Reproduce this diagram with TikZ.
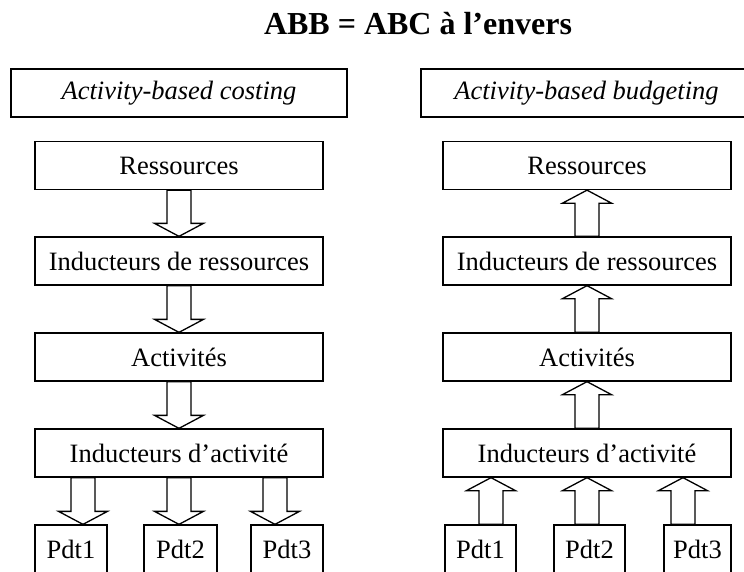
\documentclass[tikz,border=0pt]{standalone}
\usepackage{fontspec}
\setmainfont{Liberation Serif}
\usepackage{tikz}
\usetikzlibrary{calc}
\tikzset{
    box/.style={rectangle,draw,line width=1.3pt,minimum height=48,inner sep=0pt,font=\fontsize{26.5}{30}\selectfont},
    colbox/.style={box,minimum width=288},
    headbox/.style={box,font=\fontsize{26.5}{30}\selectfont\itshape},
    titlenode/.style={inner sep=0pt,anchor=base,font=\fontsize{32}{36}\selectfont\bfseries},
    fat/.style={draw,line width=1.3pt,line join=miter},
}
% hollow block arrow: x and tail from #1, tip height from #2
\newcommand{\fatarrow}[2]{%
    \draw[fat] let \p1=(#1), \p2=(#2), \n1={(\y2>\y1) ? 1 : -1} in
        (\x1-12pt,\y1) -- (\x1-12pt,\y2-\n1*13pt) -- (\x1-24.5pt,\y2-\n1*13pt) -- (\x1,\y2)
        -- (\x1+24.5pt,\y2-\n1*13pt) -- (\x1+12pt,\y2-\n1*13pt) -- (\x1+12pt,\y1) -- cycle;
}

\begin{document}
\begin{tikzpicture}[x=1pt,y=-1pt]
    \useasboundingbox (0,0) rectangle (744,571);

    \node[titlenode] (title) at (418,34) {ABB = ABC à l’envers};

    % ABC
    \node[headbox,minimum width=336] (abc) at (179,93) {Activity-based costing};
    \node[colbox] (ra) at (179,165.5) {Ressources};
    \node[colbox] (ira) at (179,261) {Inducteurs de ressources};
    \node[colbox] (aa) at (179,357) {Activités};
    \node[colbox] (iaa) at (179,453) {Inducteurs d’activité};
    \node[box,minimum width=72] (pa1) at (71,549) {Pdt1};
    \node[box,minimum width=73] (pa2) at (180.5,549) {Pdt2};
    \node[box,minimum width=72] (pa3) at (287,549) {Pdt3};

    \fatarrow{ra.south}{ira.north}
    \fatarrow{ira.south}{aa.north}
    \fatarrow{aa.south}{iaa.north}
    \fatarrow{$(iaa.south)+(-96,0)$}{pa1.north}
    \fatarrow{iaa.south}{pa2.north}
    \fatarrow{$(iaa.south)+(96,0)$}{pa3.north}

    % ABB
    \node[headbox,minimum width=331] (abb) at (586.5,93) {Activity-based budgeting};
    \node[colbox] (rb) at (587,165.5) {Ressources};
    \node[colbox] (irb) at (587,261) {Inducteurs de ressources};
    \node[colbox] (ab) at (587,357) {Activités};
    \node[colbox] (iab) at (587,453) {Inducteurs d’activité};
    \node[box,minimum width=71] (pb1) at (480.5,549) {Pdt1};
    \node[box,minimum width=71] (pb2) at (589.5,549) {Pdt2};
    \node[box,minimum width=67] (pb3) at (697.5,549) {Pdt3};

    \fatarrow{irb.north}{rb.south}
    \fatarrow{ab.north}{irb.south}
    \fatarrow{iab.north}{ab.south}
    \fatarrow{$(pb1.north)+(10.5,0)$}{iab.south}
    \fatarrow{$(pb2.north)+(-2.5,0)$}{iab.south}
    \fatarrow{$(pb3.north)+(-14.5,0)$}{iab.south}
\end{tikzpicture}
\end{document}
